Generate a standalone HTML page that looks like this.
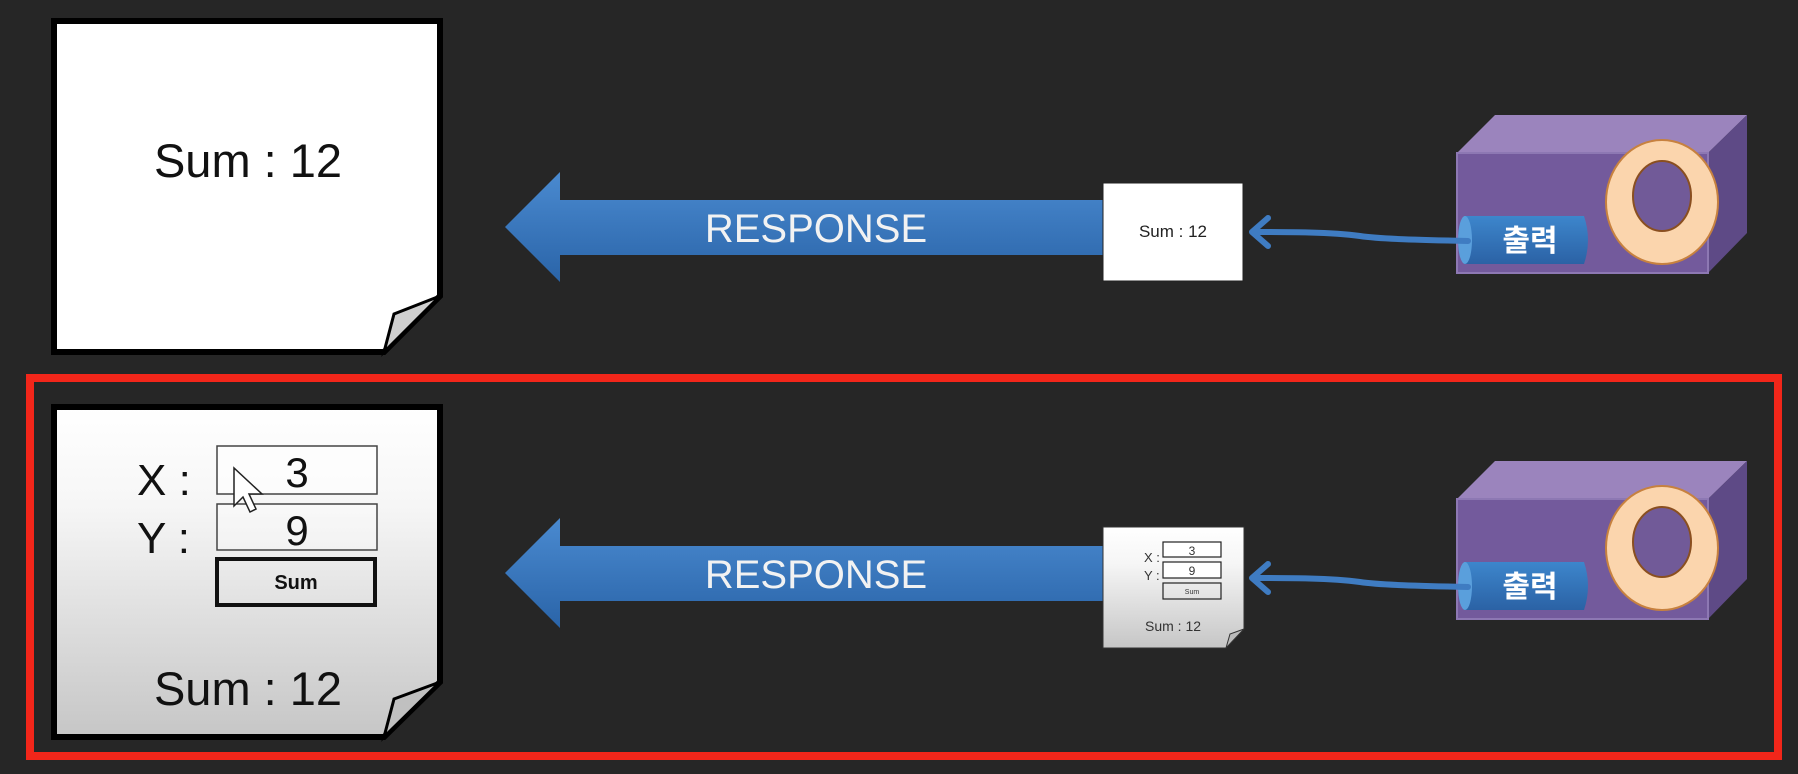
<!DOCTYPE html>
<html><head><meta charset="utf-8"><style>
html,body{margin:0;padding:0;background:#262626;}
svg{display:block}
</style></head><body>
<svg width="1798" height="774" viewBox="0 0 1798 774" xmlns="http://www.w3.org/2000/svg">
<defs>
<linearGradient id="pg" x1="0" y1="0" x2="0" y2="1"><stop offset="0" stop-color="#ffffff"/><stop offset="0.3" stop-color="#f6f6f6"/><stop offset="1" stop-color="#c6c6c6"/></linearGradient>
<linearGradient id="ar" x1="0" y1="0" x2="0" y2="1"><stop offset="0" stop-color="#4a8ad0"/><stop offset="1" stop-color="#2a64a8"/></linearGradient>
<linearGradient id="pill" x1="0" y1="0" x2="0" y2="1"><stop offset="0" stop-color="#3d86cc"/><stop offset="1" stop-color="#2b62a5"/></linearGradient>
<g id="box">
<polygon points="1457,153 1495,115 1747,115 1708,153" fill="#9b84bd"/>
<polygon points="1708,153 1747,115 1747,233 1708,273" fill="#5e4a86"/>
<rect x="1457" y="153" width="251" height="120" fill="#735a9c"/>
<rect x="1457" y="153" width="251" height="120" fill="none" stroke="#8d78b3" stroke-width="2"/>
<ellipse cx="1662" cy="202" rx="56" ry="62" fill="#fbd5ad" stroke="#c7813f" stroke-width="2"/>
<ellipse cx="1662" cy="196" rx="29" ry="35" fill="#715a98" stroke="#8a4f20" stroke-width="2"/>
<path d="M1464,216 H1584 Q1592,240 1584,264 H1464 Z" fill="url(#pill)"/>
<ellipse cx="1465" cy="240" rx="7" ry="24" fill="#5a9fdc"/>
<text x="1530" y="251" font-family="'Liberation Sans','Noto Sans CJK KR',sans-serif" font-weight="bold" font-size="30" fill="#fff" text-anchor="middle">출력</text>
<path d="M1468,241 C1420,240 1380,239 1360,236 C1330,232 1290,232 1254,232" fill="none" stroke="#3f7cc2" stroke-width="6" stroke-linecap="round"/>
<path d="M1268,218 L1252,232 L1268,246" fill="none" stroke="#3f7cc2" stroke-width="6" stroke-linecap="round" stroke-linejoin="round"/>
<polygon points="505,227 560,172 560,200 1106,200 1106,255 560,255 560,282" fill="url(#ar)"/>
<text x="816" y="242" font-family="'Liberation Sans',sans-serif" font-size="40" fill="#f2f2f2" text-anchor="middle">RESPONSE</text>
</g>
</defs>
<use href="#box"/>
<polygon points="54,21 440,21 440,296 384,352 54,352" fill="#fff" stroke="#000" stroke-width="6"/>
<polygon points="384,352 394,314 440,296" fill="#cfcfcf" stroke="#000" stroke-width="3"/>
<text x="248" y="177" font-family="'Liberation Sans',sans-serif" font-size="47" fill="#111" text-anchor="middle">Sum : 12</text>
<rect x="1103" y="183" width="140" height="98" fill="#fff" stroke="#222" stroke-width="1"/>
<text x="1173" y="237" font-family="'Liberation Sans',sans-serif" font-size="17" fill="#222" text-anchor="middle">Sum : 12</text>
<rect x="30" y="378" width="1748" height="378" fill="none" stroke="#f2261a" stroke-width="8"/>
<g transform="translate(0,346)"><use href="#box"/></g>
<polygon points="54,407 440,407 440,682 384,737 54,737" fill="url(#pg)" stroke="#000" stroke-width="6"/>
<polygon points="384,737 394,699 440,682" fill="#c0c0c0" stroke="#000" stroke-width="3"/>
<g font-family="'Liberation Sans',sans-serif" fill="#111">
<text x="137" y="495" font-size="44">X :</text>
<text x="137" y="553" font-size="44">Y :</text>
<rect x="217" y="446" width="160" height="48" fill="#fff" fill-opacity="0.6" stroke="#444" stroke-width="1.5"/>
<rect x="217" y="504" width="160" height="46" fill="#fff" fill-opacity="0.3" stroke="#444" stroke-width="1.5"/>
<text x="297" y="487" font-size="42" text-anchor="middle">3</text>
<text x="297" y="545" font-size="42" text-anchor="middle">9</text>
<rect x="217" y="559" width="158" height="46" fill="none" stroke="#111" stroke-width="4"/>
<text x="296" y="589" font-size="20" font-weight="bold" text-anchor="middle">Sum</text>
<text x="248" y="705" font-size="47" text-anchor="middle">Sum : 12</text>
</g>
<polygon points="234,468 234,506 243,497 250,512 256,509 249,494 262,494" fill="#fff" stroke="#222" stroke-width="1.5"/>
<polygon points="1103,527 1244,527 1244,629 1226,648 1103,648" fill="url(#pg)" stroke="#333" stroke-width="1"/>
<polygon points="1226,648 1230,634 1244,629" fill="#bbb" stroke="#333" stroke-width="1"/>
<g font-family="'Liberation Sans',sans-serif" fill="#333">
<text x="1144" y="562" font-size="13">X :</text>
<text x="1144" y="580" font-size="13">Y :</text>
<rect x="1163" y="542" width="58" height="15" fill="#fff" stroke="#222" stroke-width="1.2"/>
<rect x="1163" y="562" width="58" height="16" fill="#fff" stroke="#222" stroke-width="1.2"/>
<rect x="1163" y="583" width="58" height="16" fill="none" stroke="#222" stroke-width="1.2"/>
<text x="1192" y="555" font-size="12" text-anchor="middle">3</text>
<text x="1192" y="575" font-size="12" text-anchor="middle">9</text>
<text x="1192" y="594" font-size="7" text-anchor="middle">Sum</text>
<text x="1173" y="631" font-size="14" text-anchor="middle">Sum : 12</text>
</g>
</svg>
</body></html>
